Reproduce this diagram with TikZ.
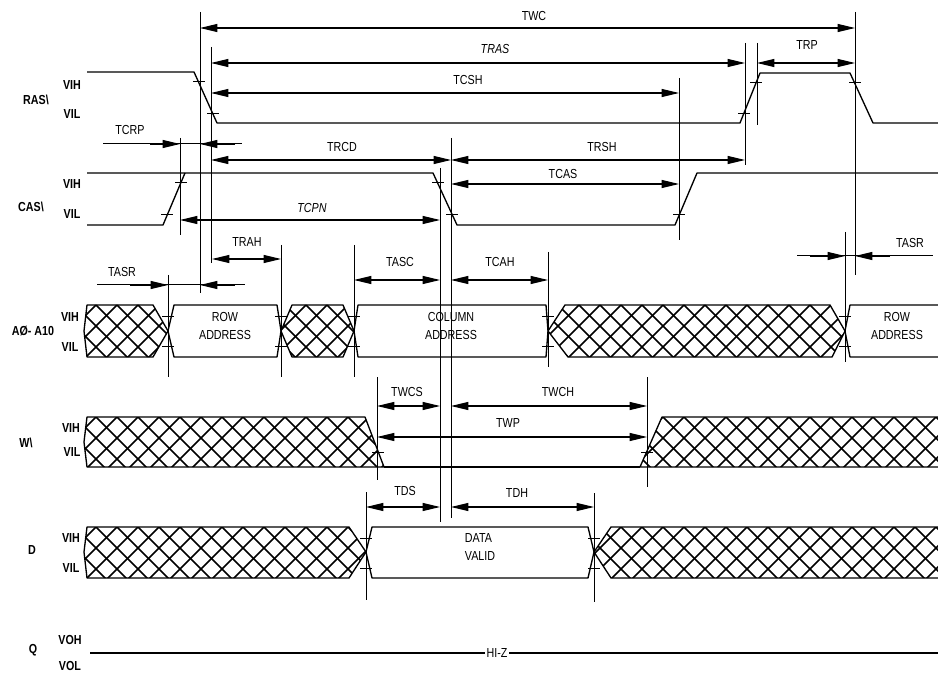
\documentclass[tikz,border=0pt]{standalone}
\usepackage{fontspec}
\setmainfont{Liberation Sans}[FakeStretch=0.82]
\usetikzlibrary{arrows.meta}
\tikzset{
  wave/.style={line width=1.0pt, line join=round},
  refl/.style={line width=0.75pt},
  hatchl/.style={line width=1.2pt},
  dim/.style={line width=0.8pt, {Triangle[length=13pt,width=6pt]}-{Triangle[length=13pt,width=6pt]}},
  onetip/.style={line width=0.8pt, -{Triangle[length=13pt,width=6pt]}},
  lbl/.style={font=\fontsize{9.8pt}{11pt}\selectfont, inner sep=0pt},
  sig/.style={font=\fontsize{9.8pt}{11pt}\selectfont\bfseries, inner sep=0pt},
}
\newcommand\tk[2]{\draw[refl] ({#1-6},#2) -- ({#1+6},#2);}
\newcommand\vref[3]{\draw[refl] (#1,#2) -- (#1,#3);}
\newcommand\dimline[6]{\draw[dim] (#2,#1) -- (#3,#1); \node[lbl] at (#5,#6) {#4};}
\newcommand\hatchin[2]{%
  \begin{scope}
    \clip #1;
    \foreach \k in {-3,...,44}{
      \draw[hatchl] ({96+21*\k-12},{#2-12}) -- ++(90,90);
      \draw[hatchl] ({96+21*\k+12},{#2-12}) -- ++(-90,90);
    }
  \end{scope}}
\begin{document}
\begin{tikzpicture}[x=0.75pt,y=-0.75pt]
\useasboundingbox (0,0) rectangle (938,673);

% ---------- signal labels ----------
\node[sig] (lras) at (36,100) {RAS\textbackslash};
\node[sig] (lrasH) at (72,85) {VIH};
\node[sig] (lrasL) at (72,114) {VIL};
\node[sig] (lcas) at (31,207) {CAS\textbackslash};
\node[sig] (lcasH) at (72,184) {VIH};
\node[sig] (lcasL) at (72,214) {VIL};
\node[sig] (ladr) at (33,331) {AØ- A10};
\node[sig] (ladrH) at (70,317) {VIH};
\node[sig] (ladrL) at (70,347) {VIL};
\node[sig] (lw) at (26,443) {W\textbackslash};
\node[sig] (lwH) at (71,428) {VIH};
\node[sig] (lwL) at (72,452) {VIL};
\node[sig] (ld) at (32,550) {D};
\node[sig] (ldH) at (71,538) {VIH};
\node[sig] (ldL) at (71,568) {VIL};
\node[sig] (lq) at (33,650) {Q};
\node[sig] (lqH) at (70,640) {VOH};
\node[sig] (lqL) at (70,666) {VOL};

% ---------- RAS ----------
\draw[wave] (87,72) -- (194,72) -- (217,123) -- (740,123) -- (760,73) -- (850,73) -- (873,123) -- (938,123);
\tk{199}{82} \tk{213}{114} \tk{744}{114} \tk{756}{83} \tk{855}{83}

% ---------- CAS ----------
\draw[wave] (87,173) -- (433,173) -- (457,225) -- (675,225) -- (697,173) -- (938,173);
\draw[wave] (87,225) -- (163,225) -- (185,173);
\tk{167}{215} \tk{181}{183} \tk{438}{183} \tk{452}{215} \tk{679}{215}

% ---------- address bus ----------
\hatchin{(84,331) -- (87,305) -- (153,305) -- (168,331) -- (153,357) -- (87,357) -- cycle}{305}
\draw[wave] (84,331) -- (87,305) -- (153,305) -- (168,331) -- (153,357) -- (87,357) -- cycle;
\draw[wave] (168,331) -- (174,305) -- (277,305) -- (281,331) -- (277,357) -- (174,357) -- cycle;
\hatchin{(281,331) -- (292,305) -- (343,305) -- (354,331) -- (343,357) -- (292,357) -- cycle}{305}
\draw[wave] (281,331) -- (292,305) -- (343,305) -- (354,331) -- (343,357) -- (292,357) -- cycle;
\draw[wave] (354,331) -- (358,305) -- (546,305) -- (548,331) -- (546,357) -- (358,357) -- cycle;
\hatchin{(548,331) -- (565,305) -- (830,305) -- (845,331) -- (832,357) -- (568,357) -- cycle}{305}
\draw[wave] (548,331) -- (565,305) -- (830,305) -- (845,331) -- (832,357) -- (568,357) -- cycle;
\draw[wave] (938,305) -- (850,305) -- (845,331) -- (850,357) -- (938,357);
\foreach \x in {168,281,354,548,845}{\tk{\x}{317} \tk{\x}{347}}
\node[lbl, align=center] (row1) at (225,326) {ROW\\[2pt]ADDRESS};
\node[lbl, align=center] (col) at (451,326) {COLUMN\\[2pt]ADDRESS};
\node[lbl, align=center] (row2) at (897,326) {ROW\\[2pt]ADDRESS};

% ---------- W ----------
\hatchin{(84,442) -- (87,417) -- (365,417) -- (384,467) -- (87,467) -- cycle}{417}
\draw[wave] (84,442) -- (87,417) -- (365,417) -- (384,467) -- (87,467) -- cycle;
\draw[wave] (384,467) -- (640,467);
\hatchin{(640,467) -- (662,417) -- (940,417) -- (940,467) -- cycle}{417}
\draw[wave] (938,417) -- (662,417) -- (640,467) -- (938,467);
\tk{378}{452} \tk{647}{452}

% ---------- D ----------
\hatchin{(84,552) -- (87,527) -- (349,527) -- (366,552) -- (349,578) -- (87,578) -- cycle}{527}
\draw[wave] (84,552) -- (87,527) -- (349,527) -- (366,552) -- (349,578) -- (87,578) -- cycle;
\draw[wave] (366,552) -- (372,527) -- (588,527) -- (594,552) -- (588,578) -- (372,578) -- cycle;
\hatchin{(594,552) -- (611,527) -- (940,527) -- (940,578) -- (611,578) -- cycle}{527}
\draw[wave] (938,527) -- (611,527) -- (594,552) -- (611,578) -- (938,578);
\foreach \x in {366,594}{\tk{\x}{538} \tk{\x}{568}}
\node[lbl, align=left] (dv) at (480,547) {DATA\\[2pt]VALID};

% ---------- Q ----------
\draw[wave] (90,653) -- (938,653);
\node[lbl, fill=white, inner sep=1.5pt] (hiz) at (497,653) {HI-Z};

% ---------- reference lines ----------
\vref{200}{12}{293}
\vref{211}{47}{263}
\vref{180}{138}{235}
\vref{440}{168}{522}
\vref{451}{138}{518}
\vref{679}{78}{240}
\vref{745}{43}{165}
\vref{757}{43}{125}
\vref{855}{12}{275}
\vref{168}{275}{377}
\vref{281}{245}{377}
\vref{354}{245}{377}
\vref{548}{252}{367}
\vref{845}{232}{362}
\vref{377}{377}{480}
\vref{647}{377}{487}
\vref{366}{492}{600}
\vref{594}{493}{602}

% ---------- timing dimensions ----------
\dimline{28}{200}{855}{TWC}{534}{16}
\dimline{63}{211}{745}{\itshape TRAS}{495}{49}
\dimline{93}{211}{679}{TCSH}{468}{80}
\dimline{63}{757}{855}{TRP}{807}{45}
\dimline{160}{211}{451}{TRCD}{342}{147}
\dimline{160}{451}{745}{TRSH}{602}{147}
\dimline{184}{451}{679}{TCAS}{563}{174}
\dimline{220}{180}{440}{\itshape TCPN}{312}{208}
\dimline{259}{212}{281}{TRAH}{247}{242}
\dimline{280}{354}{440}{TASC}{400}{262}
\dimline{280}{451}{548}{TCAH}{500}{262}
\dimline{406}{377}{440}{TWCS}{407}{392}
\dimline{406}{451}{647}{TWCH}{558}{392}
\dimline{437}{377}{647}{TWP}{508}{423}
\dimline{507}{366}{440}{TDS}{405}{491}
\dimline{507}{451}{594}{TDH}{517}{493}

% TCRP (outside arrows)
\draw[refl] (103,144) -- (242,144);
\draw[onetip] (150,144) -- (180,144);
\draw[onetip] (235,144) -- (200,144);
\node[lbl] (tcrp) at (130,130) {TCRP};
% TASR left
\draw[refl] (97,285) -- (245,285);
\draw[onetip] (130,285) -- (168,285);
\draw[onetip] (235,285) -- (200,285);
\node[lbl] (tasr1) at (122,272) {TASR};
% TASR right
\draw[refl] (797,256) -- (933,256);
\draw[onetip] (810,256) -- (845,256);
\draw[onetip] (890,256) -- (855,256);
\node[lbl] (tasr2) at (910,243) {TASR};
\end{tikzpicture}
\end{document}
